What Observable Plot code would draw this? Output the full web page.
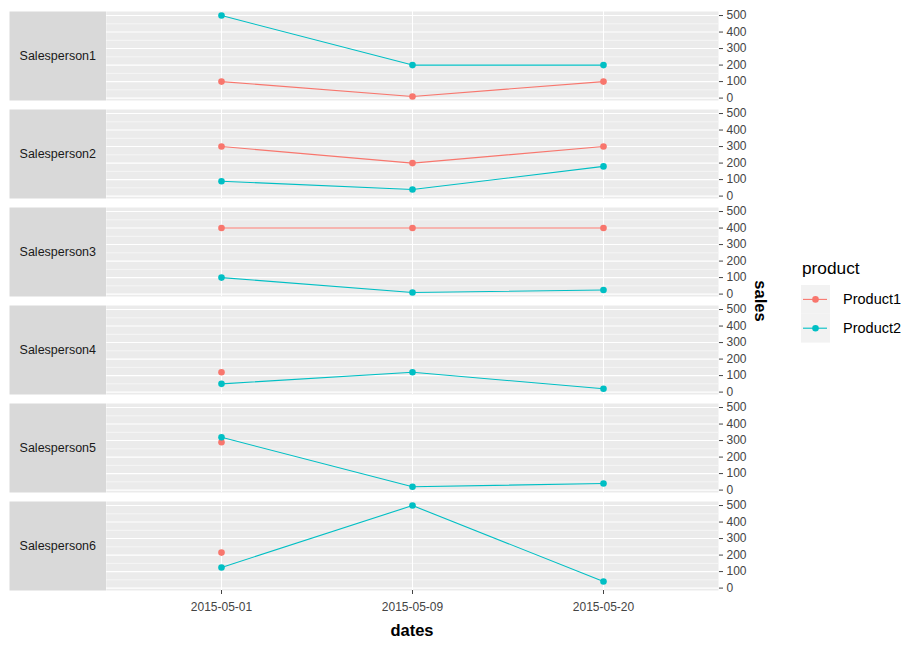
<!DOCTYPE html>
<html>
<head>
<meta charset="utf-8">
<script src="https://cdn.jsdelivr.net/npm/d3@7"></script>
<script src="https://cdn.jsdelivr.net/npm/@observablehq/plot@0.6"></script>
<style>
  html, body { margin: 0; padding: 0; background: white; }
  #wrap { position: relative; width: 921px; height: 648px; font-family: "Liberation Sans", Arial, sans-serif; }
  #wrap > svg { position: absolute; left: 0; top: 0; }
  .title { position: absolute; white-space: nowrap; color: #000; }
</style>
</head>
<body>
<div id="wrap"></div>
<script>
const dates = ["2015-05-01", "2015-05-09", "2015-05-20"];
const salespeople = ["Salesperson1", "Salesperson2", "Salesperson3", "Salesperson4", "Salesperson5", "Salesperson6"];
const products = ["Product1", "Product2"];
const productColors = ["#F8766D", "#00BFC4"];
// sales per salesperson (rows) and date (columns); null = no record
const product1Sales = [
  [100, 10, 100],
  [300, 200, 300],
  [400, 400, 400],
  [120, null, null],
  [290, null, null],
  [215, null, null]
];
const product2Sales = [
  [500, 200, 200],
  [90, 40, 180],
  [100, 10, 25],
  [50, 120, 20],
  [320, 20, 40],
  [125, 500, 40]
];
const yTicks = [0, 100, 200, 300, 400, 500];
const yMinorTicks = [50, 150, 250, 350, 450];

const rows = [];
[product1Sales, product2Sales].forEach((table, pi) => {
  table.forEach((vals, si) => {
    vals.forEach((v, di) => {
      if (v != null) rows.push({product: products[pi], sp: salespeople[si], date: dates[di], sales: v});
    });
  });
});

const ext = d3.extent(rows, d => d.sales);
const pad = (ext[1] - ext[0]) * 0.05;
const font = '"Liberation Sans", Arial, sans-serif';

const chart = Plot.plot({
  width: 921,
  height: 648,
  marginTop: 9,
  marginBottom: 56,
  marginLeft: 106,
  marginRight: 203,
  style: {fontFamily: font, fontSize: "12px", background: "white", overflow: "visible"},
  x: {type: "point", domain: dates, padding: 0.6},
  y: {domain: [ext[0] - pad, ext[1] + pad]},
  fy: {domain: salespeople, axis: null, paddingInner: 0.0913, paddingOuter: 0},
  color: {domain: products, range: productColors},
  marks: [
    Plot.frame({fill: "#EBEBEB", stroke: "none"}),
    Plot.frame({fill: "#D9D9D9", stroke: "none", insetLeft: -97, insetRight: 612.3}),
    Plot.text(salespeople, {fy: d => d, text: d => d, frameAnchor: "left", dx: -48.7, textAnchor: "middle", fontSize: 12.5, fill: "#1A1A1A"}),
    Plot.gridY(yMinorTicks, {stroke: "white", strokeOpacity: 1, strokeWidth: 0.55}),
    Plot.gridY(yTicks, {stroke: "white", strokeOpacity: 1, strokeWidth: 1.1}),
    Plot.gridX(dates, {stroke: "white", strokeOpacity: 1, strokeWidth: 1.1}),
    Plot.axisY(yTicks, {anchor: "right", tickSize: 4, tickPadding: 4, fontSize: 12, color: "#444", label: null}),
    Plot.axisX({anchor: "bottom", tickSize: 4, tickPadding: 8, fontSize: 12, color: "#444", label: null}),
    Plot.line(rows, {x: "date", y: "sales", z: "product", stroke: "product", fy: "sp", strokeWidth: 1.1}),
    Plot.dot(rows, {x: "date", y: "sales", fill: "product", fy: "sp", r: 3.3, stroke: "none"})
  ]
});

const wrap = document.getElementById("wrap");
wrap.appendChild(chart);

// axis titles
const xt = document.createElement("div");
xt.className = "title";
xt.textContent = "dates";
xt.style.cssText = "left:412px;top:630px;transform:translate(-50%,-50%);font-size:16.5px;font-weight:bold;";
wrap.appendChild(xt);

const yt = document.createElement("div");
yt.className = "title";
yt.textContent = "sales";
yt.style.cssText = "left:760px;top:301px;transform:translate(-50%,-50%) rotate(90deg);font-size:16.5px;font-weight:bold;";
wrap.appendChild(yt);

// legend
const color = chart.scale("color");
const leg = d3.create("svg")
  .attr("width", 921).attr("height", 648)
  .style("position", "absolute").style("left", "0").style("top", "0")
  .style("font-family", font);
leg.append("text").attr("x", 802).attr("y", 274).attr("font-size", 17.3).attr("fill", "#000").text("product");
products.forEach((p, i) => {
  const y0 = 285 + i * 28.8;
  const cy = y0 + 14.4;
  const c = color.apply(p);
  leg.append("rect").attr("x", 801).attr("y", y0).attr("width", 29).attr("height", 28.8).attr("fill", "#F2F2F2");
  leg.append("line").attr("x1", 803).attr("x2", 827).attr("y1", cy).attr("y2", cy).attr("stroke", c).attr("stroke-width", 1.1);
  leg.append("circle").attr("cx", 815.5).attr("cy", cy).attr("r", 3.3).attr("fill", c);
  leg.append("text").attr("x", 843).attr("y", cy).attr("dy", "0.35em").attr("font-size", 14.5).attr("fill", "#000").text(p);
});
wrap.appendChild(leg.node());
</script>
</body>
</html>
